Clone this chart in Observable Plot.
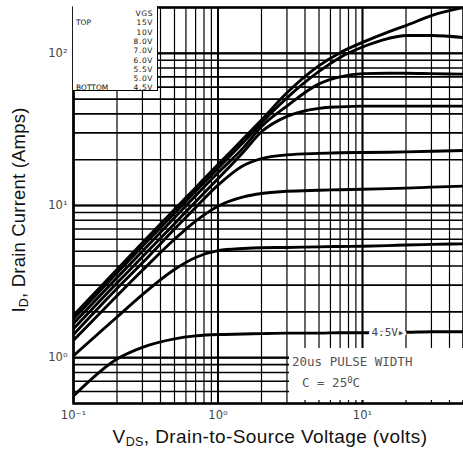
<!DOCTYPE html>
<html><head><meta charset="utf-8">
<script src="https://cdn.jsdelivr.net/npm/d3@7"></script>
<script src="https://cdn.jsdelivr.net/npm/@observablehq/plot@0.6"></script>
<style>
body{margin:0;background:#fff;}
#wrap{position:relative;width:463px;height:459px;overflow:hidden;font-family:"Liberation Sans",Arial,sans-serif;background:#fff;}
.ov{position:absolute;}
#legend{left:73px;top:6px;width:84px;height:84px;background:#fff;border-right:1.5px solid #000;border-bottom:1.5px solid #000;font-family:"DejaVu Sans",sans-serif;font-size:7.5px;color:#111;}
#legend div{position:absolute;white-space:nowrap;line-height:9px;}
#note{left:289px;top:348px;width:174px;height:52px;background:#fff;font-family:"DejaVu Sans Mono",monospace;color:#555;font-size:12.5px;}
#note div{position:absolute;white-space:nowrap;}
#xt{left:0;width:463px;top:426px;text-align:center;font-size:19px;letter-spacing:0.4px;color:#111;padding-left:77px;box-sizing:border-box;}
#yt{left:19px;top:210px;font-size:18.5px;letter-spacing:0.2px;color:#111;white-space:nowrap;transform:translate(-50%,-50%) rotate(-90deg);}
sub{font-size:12.5px;vertical-align:-3px;}
</style></head><body><div id="wrap"></div>
<script>
// Drain-to-source voltage sample points (V)
const vds = [0.1, 0.2, 0.3, 0.5, 0.7, 1, 1.5, 2, 3, 5, 7, 10, 15, 20, 30, 50];
// Gate voltages (legend order, top to bottom)
const vgsLabels = ["15V", "10V", "8.0V", "7.0V", "6.0V", "5.5V", "5.0V", "4.5V"];
// Drain current (A) for each gate voltage
const id15  = [1.9, 3.8, 5.7, 9.4, 13.1, 18.6, 27.5, 36.5, 55, 83, 101, 118, 138, 152, 177, 200];
const id10  = [1.8, 3.6, 5.4, 8.9, 12.4, 17.6, 26, 35, 51, 76, 94, 110, 125, 131, 131, 127];
const id8   = [1.68, 3.35, 5.0, 8.3, 11.6, 16.4, 24, 33, 45, 63, 70, 73.5, 74, 74, 73.5, 73];
const id7   = [1.55, 3.1, 4.6, 7.6, 10.6, 15, 22.5, 30.5, 38.5, 43.5, 44.5, 45, 45, 45, 45, 45];
const id6   = [1.42, 2.85, 4.2, 7.0, 9.7, 13.6, 18.3, 20.3, 21.5, 22, 22.2, 22.3, 22.4, 22.5, 22.7, 23];
const id55  = [1.3, 2.55, 3.75, 6.0, 7.9, 9.9, 11.4, 12.0, 12.4, 12.6, 12.7, 12.8, 12.9, 13.0, 13.2, 13.4];
const id5   = [1.03, 1.85, 2.6, 3.8, 4.55, 5.05, 5.22, 5.28, 5.3, 5.35, 5.38, 5.4, 5.45, 5.5, 5.55, 5.6];
const id45  = [0.56, 0.98, 1.17, 1.33, 1.39, 1.42, 1.43, 1.44, 1.45, 1.45, 1.46, 1.46, 1.47, 1.47, 1.48, 1.48];
const idSeries = [id15, id10, id8, id7, id6, id55, id5, id45];

// Axis ticks and grid values
const xTicks = [0.1, 1, 10];
const yTicks = [1, 10, 100];
const xGrid = [0.1,0.2,0.3,0.4,0.5,0.6,0.7,0.8,0.9,1,2,3,4,5,6,7,8,9,10,20,30,40,50];
const yGrid = [0.5,0.6,0.7,0.8,0.9,1,2,3,4,5,6,7,8,9,10,20,30,40,50,60,70,80,90,100,200];
const supers = {"-":"\u207B","0":"\u2070","1":"\u00B9","2":"\u00B2","3":"\u00B3"};
const fmt = d => "10" + String(Math.round(Math.log10(d))).split("").map(c => supers[c]).join("");

const rows = [];
idSeries.forEach((arr, s) => arr.forEach((i, k) => rows.push({vgs: vgsLabels[s], v: vds[k], i})));
const labelRow = rows.filter(d => d.vgs === "4.5V" && d.v === 15);

const chart = Plot.plot({
  width: 463, height: 459,
  marginLeft: 73, marginRight: 0, marginTop: 7, marginBottom: 56,
  x: {type: "log", domain: [0.1, 50], ticks: xTicks, tickFormat: fmt, tickSize: 0, tickPadding: 7, label: null},
  y: {type: "log", domain: [0.5, 200], ticks: yTicks, tickFormat: fmt, tickSize: 0, tickPadding: 6, label: null},
  style: {fontFamily: "'DejaVu Sans', sans-serif", fontSize: "11.5px", color: "#444", background: "white"},
  marks: [
    Plot.ruleX(xGrid, {stroke: "#000", strokeWidth: 1.2}),
    Plot.ruleY(yGrid, {stroke: "#000", strokeWidth: 1.6}),
    Plot.ruleX(xTicks, {stroke: "#000", strokeWidth: 2}),
    Plot.ruleY(yTicks, {stroke: "#000", strokeWidth: 2.2}),
    Plot.line(rows, {x: "v", y: "i", z: "vgs", stroke: "#000", strokeWidth: 2.9, curve: "monotone-x", clip: true}),
    Plot.text(labelRow, {x: "v", y: "i", text: d => d.vgs + "\u25B8", fill: "#444", stroke: "white", strokeWidth: 6, paintOrder: "stroke", fontFamily: "'DejaVu Sans Mono', monospace", fontSize: 11}),
    Plot.frame({stroke: "#000", strokeWidth: 2.5})
  ]
});
const wrap = document.getElementById("wrap");
wrap.appendChild(chart);

// Legend box
const leg = document.createElement("div");
leg.id = "legend"; leg.className = "ov";
const legendLines = [["", "VGS"], ["TOP", vgsLabels[0]]].concat(vgsLabels.slice(1, -1).map(l => ["", l])).concat([["BOTTOM", vgsLabels[vgsLabels.length - 1]]]);
legendLines.forEach((ln, k) => {
  const top = 3 + k * 9.3;
  if (ln[0]) { const a = document.createElement("div"); a.textContent = ln[0]; a.style.left = "3px"; a.style.top = top + "px"; leg.appendChild(a); }
  const b = document.createElement("div"); b.textContent = ln[1]; b.style.right = "4px"; b.style.top = top + "px"; b.style.letterSpacing = "0.6px"; leg.appendChild(b);
});
wrap.appendChild(leg);

// Conditions note
const note = document.createElement("div");
note.id = "note"; note.className = "ov";
note.innerHTML = '<div style="left:3px;top:6px">20us PULSE WIDTH</div><div style="left:13px;top:27px">C = 25<span style="font-size:9px;vertical-align:4px">0</span>C</div>';
wrap.appendChild(note);

// Axis titles
const xt = document.createElement("div");
xt.id = "xt"; xt.className = "ov";
xt.innerHTML = 'V<sub>DS</sub>, Drain-to-Source Voltage (volts)';
wrap.appendChild(xt);
const yt = document.createElement("div");
yt.id = "yt"; yt.className = "ov";
yt.innerHTML = 'I<sub>D</sub>, Drain Current (Amps)';
wrap.appendChild(yt);
</script>
</body></html>
